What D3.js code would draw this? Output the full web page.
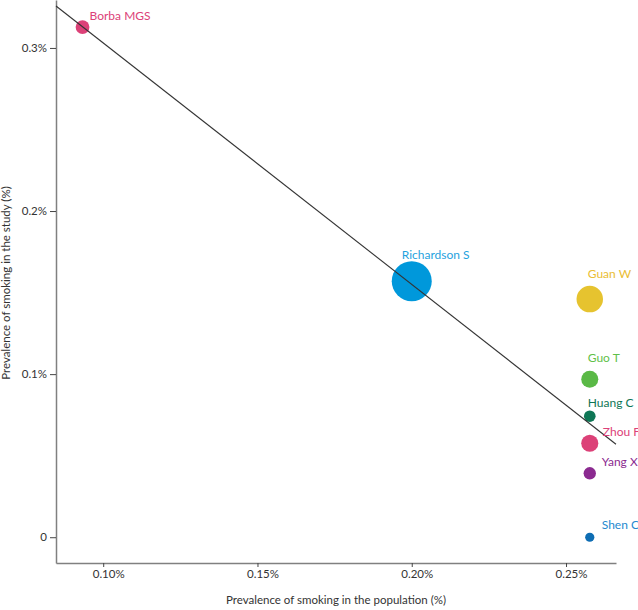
<!DOCTYPE html>
<html>
<head>
<meta charset="utf-8">
<script src="https://cdn.jsdelivr.net/npm/d3@7"></script>
<style>
  html, body { margin: 0; padding: 0; background: #fff; }
  svg { display: block; }
  text { font-family: Lato, "Noto Sans", sans-serif; }
</style>
</head>
<body>
<svg id="chart" width="638" height="610"></svg>
<script>
// ---- data ----
const studies = ["Borba MGS", "Richardson S", "Guan W", "Guo T", "Huang C", "Zhou F", "Yang X", "Shen C"];
const popPrevalence = [0.0933, 0.200, 0.2577, 0.2577, 0.2577, 0.2577, 0.2577, 0.2577];
const studyPrevalence = [0.3128, 0.1570, 0.1460, 0.0969, 0.0742, 0.0576, 0.0392, 0.0000];
const sampleSize = [81, 5700, 1099, 187, 41, 191, 52, 5];
const trendX = [0.0847, 0.2662];
const trendY = [0.3257, 0.0570];
const xTicks = [0.10, 0.15, 0.20, 0.25];
const xTickLabels = ["0.10%", "0.15%", "0.20%", "0.25%"];
const yTicks = [0, 0.1, 0.2, 0.3];
const yTickLabels = ["0", "0.1%", "0.2%", "0.3%"];
const xTitle = "Prevalence of smoking in the population (%)";
const yTitle = "Prevalence of smoking in the study (%)";

// ---- styles ----
const fillColors = ["#dc4178", "#0098db", "#e6c32f", "#5ab946", "#0e7655", "#dc4178", "#8b2a90", "#0e6db3"];
const labelColors = ["#dc4178", "#1fa2de", "#eabd33", "#5fbf4a", "#0e7655", "#dc4178", "#8b2a90", "#2589cf"];
const labelOffsets = [[7, -7], [-10, -22], [-2, -21], [-2, -17], [-2, -9], [13, -7], [12, -7], [12, -8]];

const svg = d3.select("#chart");

const x = d3.scaleLinear().domain([0.0847, 0.2662]).range([56, 616]);
const y = d3.scaleLinear().domain([-0.0158, 0.3294]).range([563, 0]);
const r = d3.scalePow().exponent(0.25).domain([0, 5700]).range([0, 20]);
const radius = n => Math.max(4.6, r(n));

// axes
const xAxis = svg.append("g").attr("transform", `translate(0,${y.range()[0]})`)
  .call(d3.axisBottom(x).tickValues(xTicks).tickFormat((d, i) => xTickLabels[i]).tickSize(4).tickSizeOuter(0));
xAxis.select(".domain").attr("stroke", "#808080").attr("stroke-width", 1.5);
xAxis.selectAll(".tick line").attr("stroke", "#444");
xAxis.selectAll(".tick text").attr("fill", "#333").attr("font-size", 11.5).attr("dx", 5);

const yAxis = svg.append("g").attr("transform", `translate(${x.range()[0]},0)`)
  .call(d3.axisLeft(y).tickValues(yTicks).tickFormat((d, i) => yTickLabels[i]).tickSize(6).tickSizeOuter(0));
yAxis.select(".domain").attr("stroke", "#808080").attr("stroke-width", 1.5);
yAxis.selectAll(".tick line").attr("stroke", "#444");
yAxis.selectAll(".tick text").attr("fill", "#333").attr("font-size", 11.5).attr("x", -9);

// titles
svg.append("text")
  .attr("x", 336).attr("y", 604)
  .attr("text-anchor", "middle").attr("font-size", 11.5).attr("fill", "#333")
  .text(xTitle);
svg.append("text")
  .attr("transform", `translate(10,${283}) rotate(-90)`)
  .attr("text-anchor", "middle").attr("font-size", 11.5).attr("fill", "#333")
  .text(yTitle);

// points
const data = studies.map((s, i) => ({ s, px: popPrevalence[i], py: studyPrevalence[i], n: sampleSize[i], i }));

svg.append("g").selectAll("circle").data(data).join("circle")
  .attr("cx", d => x(d.px)).attr("cy", d => y(d.py)).attr("r", d => radius(d.n))
  .attr("fill", d => fillColors[d.i]);

// trend line (drawn over points)
svg.append("line")
  .attr("x1", x(trendX[0])).attr("y1", y(trendY[0]))
  .attr("x2", x(trendX[1])).attr("y2", y(trendY[1]))
  .attr("stroke", "#333").attr("stroke-width", 1.1);

// labels
svg.append("g").selectAll("text").data(data).join("text")
  .attr("x", d => x(d.px) + labelOffsets[d.i][0])
  .attr("y", d => y(d.py) + labelOffsets[d.i][1])
  .attr("font-size", 12).attr("fill", d => labelColors[d.i])
  .text(d => d.s);
</script>
</body>
</html>
